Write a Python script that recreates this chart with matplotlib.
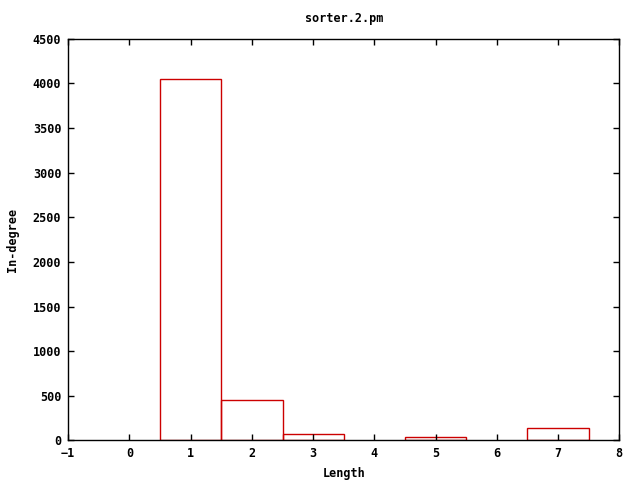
import matplotlib
matplotlib.use("Agg")
import matplotlib.pyplot as plt

lengths = [1, 2, 3, 5, 7]
indegree = [4050, 450, 67, 42, 142]
xticks = [-1, 0, 1, 2, 3, 4, 5, 6, 7, 8]
yticks = [0, 500, 1000, 1500, 2000, 2500, 3000, 3500, 4000, 4500]

plt.rcParams['font.family'] = ['DejaVu Sans Mono']
plt.rcParams['font.size'] = 8
plt.rcParams['font.weight'] = 'bold'

fig = plt.figure(figsize=(6.4, 4.8), dpi=100)
ax = fig.add_axes([0.1066, 0.0826, 0.861, 0.8364])
ax.bar(lengths, indegree, width=1.0, facecolor='none', edgecolor='#cc0000', linewidth=1.0)
ax.set_xlim(-1, 8)
ax.set_ylim(0, 4500)
ax.set_xticks(xticks)
ax.set_yticks(yticks)
ax.tick_params(direction='in', top=True, right=True, length=4, width=1, labelsize=8.5, pad=5)
for lab in ax.get_xticklabels() + ax.get_yticklabels():
    lab.set_fontweight('bold')
for s in ax.spines.values():
    s.set_linewidth(1)
ax.set_xlabel('Length', fontsize=8.5, fontweight='bold')
ax.xaxis.set_label_coords(0.5, -0.067)
ax.set_ylabel('In-degree', fontsize=8.5, fontweight='bold')
ax.yaxis.set_label_coords(-0.089, 0.5)
ax.set_title('sorter.2.pm', fontsize=8.5, fontweight='bold', pad=12)
fig.savefig('out.png', dpi=100)
